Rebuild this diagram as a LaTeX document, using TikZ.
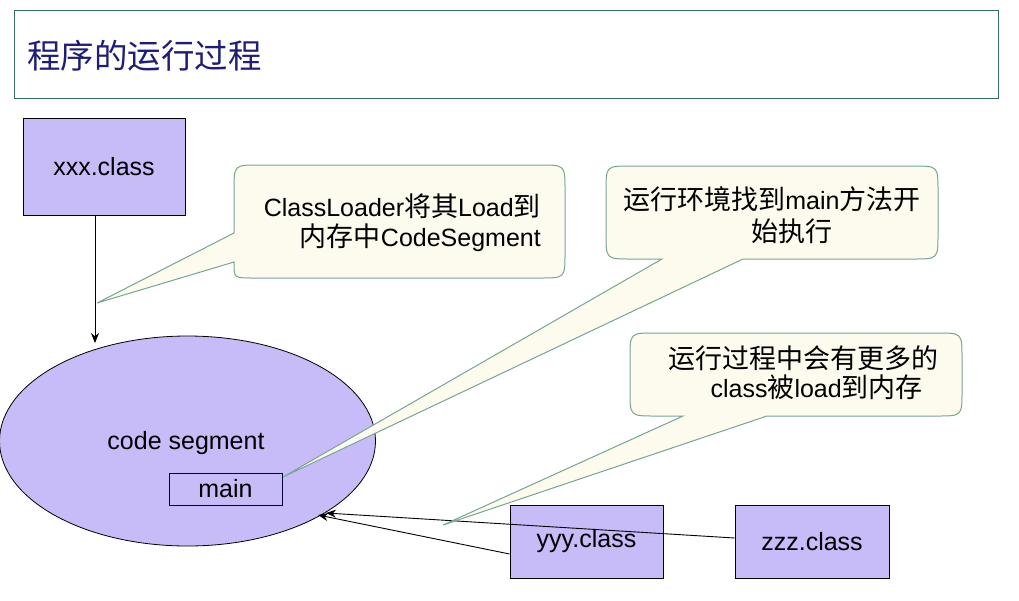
\documentclass[tikz,border=0pt]{standalone}
\usepackage{fontspec}
\setmainfont{Liberation Sans}
\newfontfamily\cjk{Noto Sans CJK SC}[Scale=1.08]
\usetikzlibrary{shapes.geometric,arrows.meta}
\definecolor{boxfill}{RGB}{199,188,248}
\definecolor{titleborder}{RGB}{52,110,105}
\definecolor{titletext}{RGB}{30,30,120}
\definecolor{callfill}{RGB}{252,251,238}
\definecolor{callborder}{RGB}{120,165,150}
\tikzset{
  classbox/.style={draw=black, fill=boxfill, line width=0.8pt, inner sep=0pt,
    font=\fontsize{25}{30}\selectfont},
  arr/.style={draw=black, line width=0.9pt, -{Stealth[length=10pt,width=8pt]}},
  callout/.style={draw=callborder, fill=callfill, line width=1pt},
  calltext/.style={font=\fontsize{25}{30}\selectfont, inner sep=0pt},
}
\begin{document}
\begin{tikzpicture}[x=1pt,y=-1pt]
\useasboundingbox (0,0) rectangle (1019,600);
\fill[white] (0,0) rectangle (1019,600);
% title
\node[draw=titleborder, line width=1pt, minimum width=984pt, minimum height=88pt, inner sep=0pt] (titlebox) at (506,54) {};
\node[anchor=west, text=titletext, font=\fontsize{31}{36}\selectfont\cjk, inner sep=0pt] (title) at (27,56) {程序的运行过程};
% code segment
\node[ellipse, draw=black, fill=boxfill, line width=0.8pt, minimum width=376pt, minimum height=210pt, inner sep=0pt,
  font=\fontsize{25}{30}\selectfont] (seg) at (187.5,441) {};
\node[font=\fontsize{25}{30}\selectfont, inner sep=0pt] (segtext) at (186,443) {code segment};
\node[draw=black!80!blue, line width=0.8pt, minimum width=113pt, minimum height=32pt, inner sep=0pt,
  font=\fontsize{25}{30}\selectfont] (main) at (225.5,489) {main};
% class boxes
\node[classbox, minimum width=162pt, minimum height=97pt] (xxx) at (104,166.5) {xxx.class};
\node[classbox, minimum width=153pt, minimum height=73pt] (yyy) at (586.5,541.5) {yyy.class};
\node[classbox, minimum width=154pt, minimum height=73pt] (zzz) at (812,541.5) {zzz.class};
% arrows
\coordinate (segtop) at (95,343);
\coordinate (yend) at (318,515);
\coordinate (zend) at (326,513);
\draw[arr] (xxx.south -| segtop) -- (segtop);
\draw[arr] ([yshift=-12.5pt]yyy.west) -- (yend);
\draw[arr] ([yshift=3.5pt]zzz.west) -- (zend);
% callout 1
\coordinate (tip1) at (97,303);
\draw[callout] (tip1) -- (234,262) -- (234,264) .. controls (234,278) .. (254,278) -- (540,278)
  .. controls (565,278) .. (565,253) -- (565,190) .. controls (565,165) .. (540,165) -- (259,165)
  .. controls (234,165) .. (234,190) -- (234,233) -- cycle;
\node[calltext, align=right, anchor=east] (c1) at (541,223) {ClassLoader{\cjk 将其}Load{\cjk 到}\\[0pt]{\cjk 内存中}CodeSegment};
% callout 2
\coordinate (tip2) at (283,477);
\draw[callout] (tip2) -- (662,259) -- (631,259) .. controls (606,259) .. (606,234) -- (606,191)
  .. controls (606,166) .. (631,166) -- (913,166) .. controls (938,166) .. (938,191) -- (938,234)
  .. controls (938,259) .. (913,259) -- (743,259) -- cycle;
\node[calltext, align=center] (c2) at (772,215) {{\cjk 运行环境找到}main{\cjk 方法开}\\[2pt]\hspace*{40pt}{\cjk 始执行}};
% callout 3
\coordinate (tip3) at (443,525);
\draw[callout] (tip3) -- (683,416) -- (655,416) .. controls (630,416) .. (630,391) -- (630,358)
  .. controls (630,333) .. (655,333) -- (937,333) .. controls (962,333) .. (962,358) -- (962,391)
  .. controls (962,416) .. (937,416) -- (767,416) -- cycle;
\node[calltext, align=right, anchor=east] (c3) at (939,373) {{\cjk 运行过程中会有更多的}\\[-1pt]class{\cjk 被}load{\cjk 到内存}\hspace*{16pt}};
\end{tikzpicture}
\end{document}
